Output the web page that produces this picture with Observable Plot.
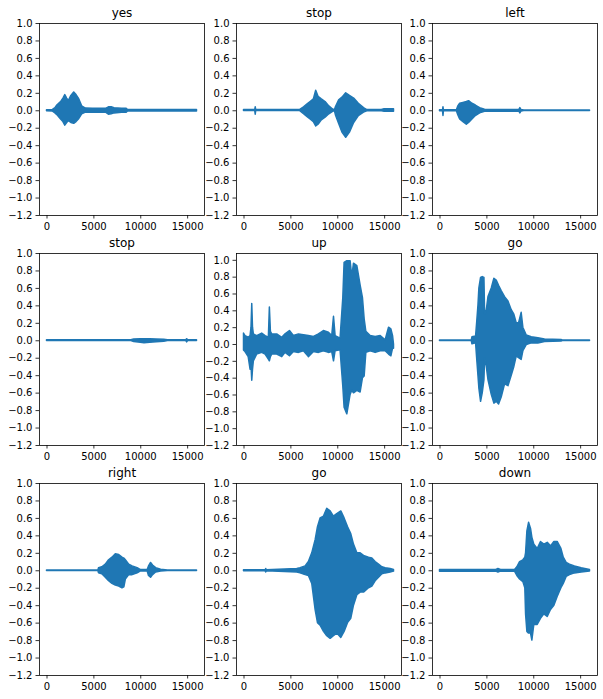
<!DOCTYPE html>
<html><head><meta charset="utf-8">
<script src="https://cdn.jsdelivr.net/npm/d3@7"></script>
<script src="https://cdn.jsdelivr.net/npm/@observablehq/plot@0.6"></script>
<style>
html,body{margin:0;padding:0;background:#fff;}
#fig{position:relative;width:603px;height:699px;overflow:hidden;background:#fff;}
#fig svg{position:absolute;}
</style></head><body><div id="fig"></div>
<script>
// ---- data (envelopes of each waveform) ----
const titles = ["yes", "stop", "left", "stop", "up", "go", "right", "go", "down"];
const xTicks = [0, 5000, 10000, 15000];
const yTicks = [-1.2, -1.0, -0.8, -0.6, -0.4, -0.2, 0.0, 0.2, 0.4, 0.6, 0.8, 1.0];

const p1X  = [0, 600, 900, 1100, 1500, 1750, 1950, 2150, 2320, 2600, 2900, 3150, 3400, 3750, 4150, 4900, 6300, 6600, 6900, 7200, 8000, 8500, 8650, 16000];
const p1Hi = [0.006, 0.008, 0.03, 0.06, 0.1, 0.14, 0.18, 0.14, 0.11, 0.17, 0.21, 0.18, 0.14, 0.05, 0.025, 0.022, 0.022, 0.04, 0.04, 0.03, 0.022, 0.022, 0.008, 0.008];
const p1Lo = [-0.006, -0.008, -0.03, -0.05, -0.1, -0.13, -0.17, -0.14, -0.12, -0.14, -0.15, -0.13, -0.1, -0.04, -0.02, -0.022, -0.022, -0.045, -0.04, -0.03, -0.022, -0.022, -0.008, -0.008];

const p2X  = [0, 1200, 1250, 1300, 6000, 6400, 6750, 7100, 7450, 7700, 7950, 8300, 8700, 9100, 9500, 9700, 9800, 10150, 10500, 10900, 11300, 11750, 12250, 12800, 13150, 14700, 15000, 16000];
const p2Hi = [0.01, 0.01, 0.04, 0.01, 0.01, 0.04, 0.07, 0.1, 0.13, 0.23, 0.16, 0.13, 0.1, 0.05, 0.015, 0.006, 0.04, 0.12, 0.15, 0.2, 0.17, 0.14, 0.08, 0.03, 0.008, 0.008, 0.018, 0.018];
const p2Lo = [-0.004, -0.004, -0.045, -0.004, -0.004, -0.04, -0.07, -0.1, -0.13, -0.18, -0.16, -0.11, -0.08, -0.04, -0.012, -0.006, -0.05, -0.15, -0.25, -0.31, -0.25, -0.14, -0.06, -0.02, -0.006, -0.006, -0.01, -0.01];

const p3X  = [0, 320, 370, 420, 1800, 1950, 2150, 2500, 2860, 3100, 3460, 3820, 4280, 4800, 7600, 8450, 8570, 8700, 9000, 16000];
const p3Hi = [0.006, 0.006, 0.04, 0.006, 0.006, 0.05, 0.08, 0.09, 0.1, 0.11, 0.08, 0.06, 0.03, 0.012, 0.01, 0.008, 0.03, 0.008, 0.004, 0.004];
const p3Lo = [-0.006, -0.006, -0.06, -0.006, -0.006, -0.05, -0.1, -0.13, -0.16, -0.14, -0.1, -0.06, -0.03, -0.012, -0.01, -0.008, -0.03, -0.008, -0.004, -0.004];

const p4X  = [0, 9000, 9300, 10000, 10400, 11000, 11700, 12500, 12900, 14850, 14950, 15050, 16000];
const p4Hi = [0.005, 0.005, 0.015, 0.018, 0.018, 0.018, 0.016, 0.012, 0.005, 0.005, 0.018, 0.005, 0.005];
const p4Lo = [-0.004, -0.004, -0.015, -0.022, -0.028, -0.022, -0.018, -0.012, -0.004, -0.004, -0.018, -0.004, -0.004];

const p5X  = [0, 160, 500, 700, 800, 880, 960, 1050, 1400, 1940, 2300, 2650, 2760, 2870, 3010, 3540, 4080, 4430, 4900, 5320, 5860, 6390, 6920, 7460, 7990, 8520, 9060, 9410, 9600, 9770, 10300, 10590, 10730, 11020, 11370, 11550, 11730, 12090, 12440, 12690, 12870, 13050, 13510, 14040, 14580, 15110, 15470, 15720, 15900, 16000];
const p5Hi = [0.13, 0.1, 0.08, 0.1, 0.2, 0.48, 0.2, 0.12, 0.1, 0.13, 0.1, 0.08, 0.44, 0.15, 0.12, 0.12, 0.08, 0.12, 0.16, 0.1, 0.12, 0.11, 0.1, 0.09, 0.12, 0.16, 0.14, 0.1, 0.33, 0.1, 0.07, 0.55, 0.97, 0.99, 0.99, 0.8, 0.96, 0.93, 0.7, 0.55, 0.3, 0.15, 0.1, 0.09, 0.1, 0.05, 0.2, 0.18, 0.1, 0.0];
const p5Lo = [-0.07, -0.09, -0.15, -0.3, -0.25, -0.43, -0.3, -0.2, -0.12, -0.1, -0.12, -0.18, -0.2, -0.15, -0.12, -0.12, -0.15, -0.1, -0.14, -0.09, -0.1, -0.08, -0.15, -0.09, -0.1, -0.08, -0.1, -0.09, -0.2, -0.08, -0.07, -0.5, -0.75, -0.83, -0.6, -0.55, -0.58, -0.55, -0.57, -0.4, -0.38, -0.1, -0.08, -0.1, -0.08, -0.08, -0.12, -0.14, -0.05, -0.05];

const p6X  = [0, 3390, 3460, 3850, 3960, 4100, 4200, 4380, 4560, 4740, 4810, 4990, 5170, 5520, 5800, 6050, 6300, 6580, 6940, 7300, 7650, 7930, 8180, 8430, 8710, 8890, 9250, 9780, 10490, 11200, 12970, 13100, 16000];
const p6Hi = [0.004, 0.004, 0.04, 0.05, 0.2, 0.4, 0.6, 0.72, 0.73, 0.72, 0.3, 0.35, 0.5, 0.6, 0.71, 0.69, 0.63, 0.57, 0.5, 0.45, 0.35, 0.3, 0.2, 0.2, 0.32, 0.15, 0.06, 0.04, 0.03, 0.015, 0.008, 0.004, 0.004];
const p6Lo = [-0.004, -0.004, -0.04, -0.03, -0.2, -0.4, -0.55, -0.7, -0.6, -0.45, -0.2, -0.3, -0.45, -0.62, -0.72, -0.7, -0.73, -0.65, -0.5, -0.52, -0.4, -0.3, -0.18, -0.2, -0.22, -0.12, -0.05, -0.03, -0.03, -0.015, -0.008, -0.004, -0.004];

const p7X  = [0, 5480, 5550, 5900, 6270, 6620, 6980, 7340, 7700, 8050, 8250, 8410, 8770, 9130, 9670, 10020, 10740, 10880, 11100, 11310, 11640, 12170, 12890, 16000];
const p7Hi = [0.003, 0.003, 0.03, 0.04, 0.07, 0.12, 0.15, 0.19, 0.18, 0.15, 0.14, 0.12, 0.07, 0.05, 0.03, 0.008, 0.008, 0.05, 0.09, 0.06, 0.03, 0.012, 0.004, 0.003];
const p7Lo = [-0.003, -0.003, -0.03, -0.04, -0.08, -0.12, -0.15, -0.17, -0.18, -0.2, -0.19, -0.1, -0.05, -0.05, -0.03, -0.008, -0.008, -0.06, -0.08, -0.05, -0.02, -0.008, -0.004, -0.003];

const p8X  = [0, 2300, 2370, 2440, 5680, 6030, 6570, 6920, 7280, 7640, 7890, 8170, 8530, 8880, 9240, 9590, 9950, 10380, 10730, 11090, 11440, 11730, 12090, 12440, 12800, 13330, 13690, 14040, 14400, 14760, 15110, 15640, 16000];
const p8Hi = [0.006, 0.006, 0.02, 0.006, 0.02, 0.03, 0.05, 0.1, 0.2, 0.35, 0.5, 0.6, 0.62, 0.71, 0.68, 0.62, 0.65, 0.68, 0.6, 0.5, 0.42, 0.3, 0.2, 0.2, 0.17, 0.15, 0.14, 0.1, 0.07, 0.04, 0.03, 0.02, 0.01];
const p8Lo = [-0.006, -0.006, -0.02, -0.006, -0.02, -0.03, -0.05, -0.06, -0.15, -0.45, -0.6, -0.63, -0.7, -0.75, -0.78, -0.75, -0.72, -0.77, -0.7, -0.6, -0.55, -0.4, -0.28, -0.25, -0.25, -0.2, -0.18, -0.12, -0.08, -0.04, -0.03, -0.02, -0.01];

const p9X  = [0, 6000, 6230, 6500, 8000, 8250, 8540, 8890, 9100, 9180, 9320, 9500, 9710, 9850, 10060, 10420, 10770, 11130, 11490, 11840, 12200, 12550, 12950, 13200, 13510, 13860, 14390, 15110, 16000];
const p9Hi = [0.01, 0.01, 0.02, 0.01, 0.01, 0.04, 0.1, 0.12, 0.15, 0.2, 0.45, 0.55, 0.48, 0.38, 0.3, 0.25, 0.33, 0.3, 0.32, 0.28, 0.33, 0.33, 0.25, 0.15, 0.09, 0.07, 0.05, 0.03, 0.008];
const p9Lo = [-0.01, -0.01, -0.02, -0.01, -0.01, -0.06, -0.1, -0.13, -0.2, -0.5, -0.7, -0.72, -0.72, -0.8, -0.62, -0.62, -0.55, -0.5, -0.53, -0.45, -0.4, -0.3, -0.2, -0.15, -0.07, -0.05, -0.03, -0.02, -0.008];

const panelsX  = [p1X, p2X, p3X, p4X, p5X, p6X, p7X, p8X, p9X];
const panelsHi = [p1Hi, p2Hi, p3Hi, p4Hi, p5Hi, p6Hi, p7Hi, p8Hi, p9Hi];
const panelsLo = [p1Lo, p2Lo, p3Lo, p4Lo, p5Lo, p6Lo, p7Lo, p8Lo, p9Lo];

// ---- layout ----
const frameLefts = [39.3, 236.2, 432.4];
const frameTops = [22.7, 253.3, 483.3];
const ML = 40, MR = 6, MT = 23, MB = 24, FW = 165, FH = 192;
const blue = "#1f77b4";
const fig = document.getElementById("fig");

titles.forEach((title, i) => {
  const r = Math.floor(i / 3), c = i % 3;
  const rows = panelsX[i].map((x, j) => ({x, hi: panelsHi[i][j], lo: panelsLo[i][j]}));
  const maxV = d3.max(panelsHi[i]), minV = d3.min(panelsLo[i]);
  const pad = 0.05 * (maxV - minV);
  const yDomain = [Math.min(-1.2, minV - pad), Math.max(1.0, maxV + pad)];
  const svg = Plot.plot({
    width: ML + FW + MR, height: MT + FH + MB,
    marginLeft: ML, marginRight: MR, marginTop: MT, marginBottom: MB,
    x: {domain: [-800, 16800]},
    y: {domain: yDomain},
    style: {fontFamily: "DejaVu Sans", fontSize: "10px", background: "transparent", color: "black", overflow: "visible"},
    marks: [
      Plot.areaY(rows, {x: "x", y1: "lo", y2: "hi", fill: blue, stroke: blue, strokeWidth: 1.5, strokeLinejoin: "round"}),
      Plot.frame({stroke: "black", strokeWidth: 0.8}),
      Plot.axisY({ticks: yTicks, tickFormat: d3.format(".1f"), tickSize: 3.5, tickPadding: 3.5, strokeWidth: 0.8, label: null}),
      Plot.axisX({ticks: xTicks, tickFormat: d3.format("d"), tickSize: 3.5, tickPadding: 3.5, strokeWidth: 0.8, label: null}),
      Plot.text([title], {frameAnchor: "top", dy: -7, lineAnchor: "bottom", fontSize: 12, fill: "black"})
    ]
  });
  svg.style.left = (frameLefts[c] - ML) + "px";
  svg.style.top = (frameTops[r] - MT) + "px";
  fig.appendChild(svg);
});
</script>
</body></html>
